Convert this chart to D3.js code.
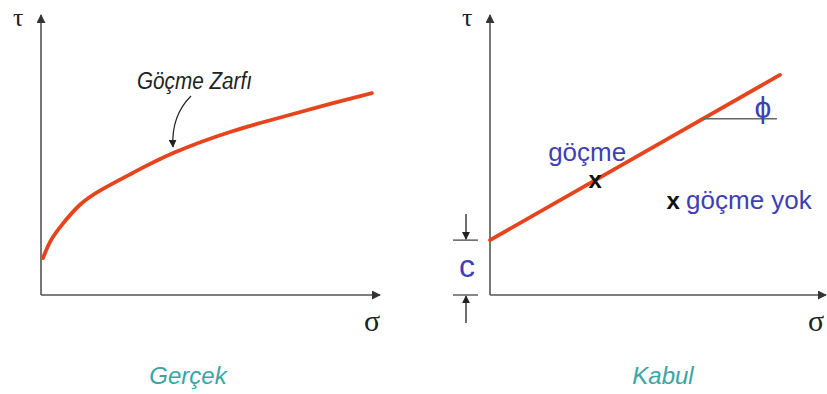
<!DOCTYPE html>
<html>
<head>
<meta charset="utf-8">
<script src="https://cdn.jsdelivr.net/npm/d3@7"></script>
<style>
  html, body { margin: 0; padding: 0; background: #fff; }
  svg { display: block; }
  .sans { font-family: "Liberation Sans", Arial, sans-serif; }
  .serif { font-family: "Liberation Serif", "DejaVu Serif", serif; }
</style>
</head>
<body>
<svg id="chart" width="827" height="394"></svg>
<script>
// Two sketches of shear strength: real (curved) envelope vs. the accepted
// straight-line (Mohr-Coulomb) envelope. Axes are unitless, 0..10.

// left panel — "Gerçek" failure envelope
const realSigma = [0.06, 0.27, 0.56, 1.15, 1.74, 2.71, 3.81, 5.66, 7.14, 8.61, 9.76];
const realTau   = [1.32, 1.96, 2.43, 3.29, 3.75, 4.36, 5.07, 5.89, 6.36, 6.86, 7.21];

// right panel — "Kabul" straight envelope, cohesion c and two test points
const lineSigma = [0, 8.63];
const lineTau   = [1.96, 7.86];
const pointNames = ["göçme", "göçme yok"];
const pointSigma = [3.13, 5.45];
const pointTau   = [4.11, 3.36];

const panelTitles = ["Gerçek", "Kabul"];

const RED = "#e6441c", AXIS = "#555", BLUE = "#3f3fb5", TEAL = "#3aa5a3";
const svg = d3.select("#chart");

const defs = svg.append("defs");
function marker(id, color, w, h) {
  defs.append("marker").attr("id", id)
    .attr("viewBox", "0 0 10 10").attr("refX", 9).attr("refY", 5)
    .attr("markerWidth", w).attr("markerHeight", h)
    .attr("markerUnits", "userSpaceOnUse").attr("orient", "auto")
    .append("path").attr("d", "M0,0 L10,5 L0,10 z").attr("fill", color);
}
marker("ax", "#333", 9, 9);
marker("small", "#222", 8, 8);

// ---- panels ----
const panels = [
  { x0: 41, x1: 380, title: panelTitles[0], tx: 188, sx: 364 },
  { x0: 490, x1: 826, title: panelTitles[1], tx: 663, sx: 808 },
];
const yTop = 15, yBase = 295;

panels.forEach((p, k) => {
  p.x = d3.scaleLinear().domain([0, 10]).range([p.x0, p.x1]);
  p.y = d3.scaleLinear().domain([0, 10]).range([yBase, yTop]);
  const g = svg.append("g");
  // axes with arrowheads
  g.append("line").attr("x1", p.x(0)).attr("y1", p.y(0)).attr("x2", p.x(0)).attr("y2", p.y(10))
    .attr("stroke", AXIS).attr("stroke-width", 1.6).attr("marker-end", "url(#ax)");
  g.append("line").attr("x1", p.x(0)).attr("y1", p.y(0)).attr("x2", p.x(10)).attr("y2", p.y(0))
    .attr("stroke", AXIS).attr("stroke-width", 1.6).attr("marker-end", "url(#ax)");
  g.append("text").attr("class", "serif").attr("x", p.x(0) - 28).attr("y", 26)
    .attr("font-size", 26).attr("fill", "#222").text("τ");
  g.append("text").attr("class", "serif").attr("x", p.sx).attr("y", 331)
    .attr("font-size", 30).attr("fill", "#222").text("σ");
  g.append("text").attr("class", "sans").attr("x", p.tx).attr("y", 384)
    .attr("text-anchor", "middle").attr("font-style", "italic").attr("font-size", 24)
    .attr("fill", TEAL).text(p.title);
});

// ---- left: curved envelope ----
const L = panels[0];
const realPts = realSigma.map((s, i) => [s, realTau[i]]);
svg.append("path")
  .attr("d", d3.line().x((d) => L.x(d[0])).y((d) => L.y(d[1])).curve(d3.curveBasis)(realPts))
  .attr("fill", "none").attr("stroke", RED).attr("stroke-width", 3.8).attr("stroke-linecap", "round");

svg.append("text").attr("class", "sans").attr("x", 137).attr("y", 89)
  .attr("font-style", "italic").attr("font-size", 23).attr("fill", "#222")
  .attr("textLength", 115).attr("lengthAdjust", "spacingAndGlyphs").text("Göçme Zarfı");
svg.append("path").attr("d", "M191,96 Q171,116 173,147")
  .attr("fill", "none").attr("stroke", "#222").attr("stroke-width", 1.2)
  .attr("marker-end", "url(#small)");

// ---- right: straight envelope ----
const R = panels[1];
const linePts = lineSigma.map((s, i) => [s, lineTau[i]]);
svg.append("path")
  .attr("d", d3.line().x((d) => R.x(d[0])).y((d) => R.y(d[1]))(linePts))
  .attr("fill", "none").attr("stroke", RED).attr("stroke-width", 3.8).attr("stroke-linecap", "round");

// friction angle φ
const phiSigma = (R.x.invert(703));
const phiTau = lineTau[0] + (lineTau[1] - lineTau[0]) / lineSigma[1] * phiSigma;
svg.append("line").attr("x1", R.x(phiSigma)).attr("x2", 777)
  .attr("y1", R.y(phiTau)).attr("y2", R.y(phiTau))
  .attr("stroke", "#666").attr("stroke-width", 1.5);
svg.append("text").attr("class", "sans").attr("x", 763).attr("y", 118)
  .attr("text-anchor", "middle").attr("font-size", 30).attr("fill", BLUE).text("ϕ");

// cohesion c
const cY = R.y(lineTau[0]), zY = R.y(0);
[cY, zY].forEach((yy) => svg.append("line").attr("x1", 453).attr("x2", 478)
  .attr("y1", yy).attr("y2", yy).attr("stroke", "#555").attr("stroke-width", 1.4));
svg.append("line").attr("x1", 466).attr("x2", 466).attr("y1", cY - 26).attr("y2", cY - 1)
  .attr("stroke", "#333").attr("stroke-width", 1.4).attr("marker-end", "url(#small)");
svg.append("line").attr("x1", 466).attr("x2", 466).attr("y1", zY + 28).attr("y2", zY + 1)
  .attr("stroke", "#333").attr("stroke-width", 1.4).attr("marker-end", "url(#small)");
svg.append("text").attr("class", "sans").attr("x", 467).attr("y", 277)
  .attr("text-anchor", "middle").attr("font-size", 32).attr("fill", BLUE).text("c");

// test points
pointNames.forEach((name, i) => {
  const px = R.x(pointSigma[i]), py = R.y(pointTau[i]);
  svg.append("text").attr("class", "sans").attr("x", px).attr("y", py + 8)
    .attr("text-anchor", "middle").attr("font-weight", "bold").attr("font-size", 24)
    .attr("fill", "#111").text("x");
  if (i === 0) {
    svg.append("text").attr("class", "sans").attr("x", px - 47).attr("y", py - 19)
      .attr("font-size", 26).attr("fill", BLUE).text(name);
  } else {
    svg.append("text").attr("class", "sans").attr("x", px + 13).attr("y", py + 8)
      .attr("font-size", 26).attr("fill", BLUE).text(name);
  }
});
</script>
</body>
</html>
